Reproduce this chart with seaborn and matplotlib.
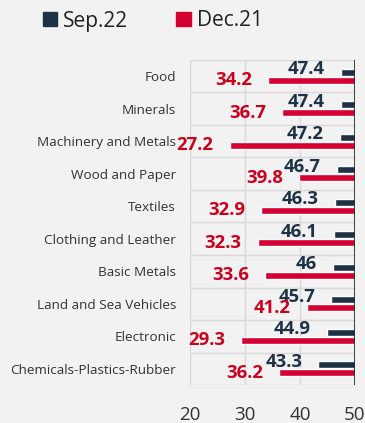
import matplotlib
matplotlib.use("Agg")
import matplotlib.pyplot as plt
import seaborn as sns
import numpy as np
from matplotlib.patches import Patch

categories = ["Food", "Minerals", "Machinery and Metals", "Wood and Paper", "Textiles",
              "Clothing and Leather", "Basic Metals", "Land and Sea Vehicles",
              "Electronic", "Chemicals-Plastics-Rubber"]
sep22 = [47.4, 47.4, 47.2, 46.7, 46.3, 46.1, 46, 45.7, 44.9, 43.3]
dec21 = [34.2, 36.7, 27.2, 39.8, 32.9, 32.3, 33.6, 41.2, 29.3, 36.2]
series_names = ["Sep.22", "Dec.21"]
x_ticks = [20, 30, 40, 50]

BASE = 50
DARK = "#1e3246"
RED = "#d40032"
RED_TXT = "#c8001e"
BG = "#f2f2f2"

sns.set_theme(style="white")
plt.rcParams["font.family"] = ["Open Sans", "DejaVu Sans"]

fig = plt.figure(figsize=(3.65, 4.23), dpi=100, facecolor=BG)
ax = fig.add_axes([190/365, 1-385/423, 165/365, 325/423])
ax.set_facecolor(BG)

y = np.arange(len(categories))
off = 0.123
h = 0.215
s = np.array(sep22)
d = np.array(dec21)
ax.barh(y - off, BASE - s, left=s, height=h, color=DARK, zorder=3)
ax.barh(y + off, BASE - d, left=d, height=h, color=RED, zorder=3)

for yi, v in zip(y, s):
    ax.annotate(f"{v:g}", xy=(v, yi - off), xytext=(-16, 3), textcoords="offset pixels",
                ha="right", va="center", fontsize=13.3, fontweight="bold", color=DARK, zorder=4)
for yi, v in zip(y, d):
    ax.annotate(f"{v:g}", xy=(v, yi + off), xytext=(-16, 0), textcoords="offset pixels",
                ha="right", va="center", fontsize=13.3, fontweight="bold", color=RED_TXT, zorder=4)

ax.set_xlim(20, 50)
ax.set_ylim(len(categories) - 0.5, -0.5)
ax.set_xticks(x_ticks)
ax.set_xticklabels([str(t) for t in x_ticks], fontsize=13.5, color="#333333")
ax.set_yticks(y)
ax.set_yticklabels(categories, fontsize=9.7, color="#333333")
ax.tick_params(axis="x", length=0, pad=15)
ax.tick_params(axis="y", length=0, pad=10)

# grid: row separators and vertical lines
ax.set_yticks(np.arange(-0.5, len(categories) + 0.5, 1), minor=True)
ax.grid(axis="y", which="minor", color="#d8d8d8", linewidth=1, zorder=0)
ax.grid(axis="y", which="major", visible=False)
ax.grid(axis="x", which="major", color="#d8d8d8", linewidth=1, zorder=0)
ax.tick_params(axis="y", which="minor", length=0)

for sp in ["top", "left", "bottom", "right"]:
    ax.spines[sp].set_visible(False)
ax.axvline(BASE, color="#222222", linewidth=1.2, zorder=5)

handles = [Patch(color=DARK), Patch(color=RED)]
fig.legend(handles, series_names, loc="center left", bbox_to_anchor=(43/365, 1-21/423),
           ncol=2, frameon=False, fontsize=15, handlelength=0.68, handleheight=0.68,
           handletextpad=0.3, columnspacing=2.3, labelcolor="#222222",
           borderpad=0, borderaxespad=0)

fig.savefig("out.png", dpi=100, facecolor=BG)
